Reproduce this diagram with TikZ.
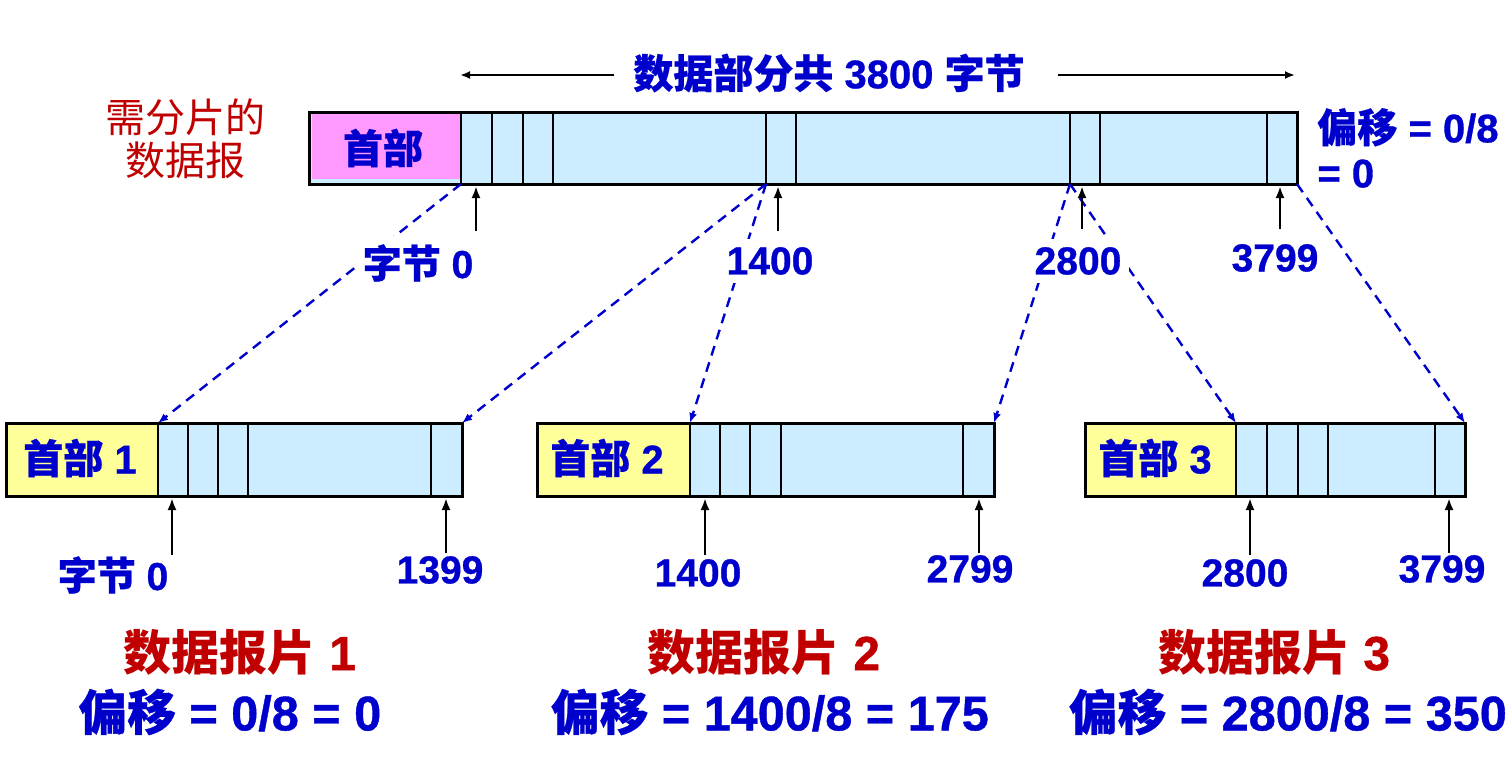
\documentclass[tikz,border=0pt]{standalone}
\usepackage{fontspec}
\setmainfont{Liberation Sans}[BoldFont={Liberation Sans Bold}, BoldFeatures={FakeBold=0.8}]
\newfontfamily\cjkfont[FakeBold=0.6]{Noto Sans CJK SC}
\newfontfamily\cjkplain{Noto Sans CJK SC}
\usetikzlibrary{arrows.meta}
\definecolor{tblue}{RGB}{0,0,204}
\definecolor{tred}{RGB}{192,0,0}
\definecolor{dblue}{RGB}{204,236,255}
\definecolor{hpink}{RGB}{255,153,255}
\definecolor{hyellow}{RGB}{255,255,153}
\newcommand\zh[1]{{\cjkfont #1}}
\newcommand\zhr[1]{{\cjkplain #1}}
\tikzset{
  frame/.style={draw=black, line width=1.5pt},
  sepline/.style={draw=black, line width=1pt},
  ptr/.style={-{Latex[length=6pt,width=4.5pt]}, line width=1.2pt, draw=black},
  span/.style={-{Latex[length=5pt,width=4pt]}, line width=1.2pt, draw=black},
  mapline/.style={draw=tblue, line width=1.2pt, dash pattern=on 5pt off 3.5pt, -{Latex[length=5pt,width=4pt]}},
  lbl/.style={text=tblue, font=\bfseries\fontsize{19.5}{22}\selectfont, inner sep=2pt},
  lblw/.style={lbl, fill=white, inner sep=4pt},
  hdr/.style={text=tblue, font=\bfseries\fontsize{20}{22}\selectfont, inner sep=0pt},
  bigred/.style={text=tred, font=\bfseries\fontsize{24}{26}\selectfont, inner sep=0pt},
  bigblue/.style={text=tblue, font=\bfseries\fontsize{24.3}{26}\selectfont, inner sep=0pt},
}
\begin{document}
\begin{tikzpicture}[x=0.5pt,y=-0.5pt]
\useasboundingbox (0,0) rectangle (1508,777);

% ---------- original datagram ----------
\fill[dblue] (309,112) rectangle (1297,184);
\fill[hpink] (312,113) rectangle (461,179);
\foreach \x in {461,492,523,553,766,796,1070,1100,1267}
  \draw[sepline] (\x,112) -- (\x,184);
\draw[frame] (309,112) rectangle (1297,184);
\node[hdr] (h0) at (383,148) {\zh{首部}};

\coordinate (t0) at (461,184);
\coordinate (t1400) at (766,184);
\coordinate (t2800) at (1070,184);
\coordinate (tend) at (1297,184);

% ---------- fragment 1 ----------
\fill[hyellow] (6,423) rectangle (158,496);
\fill[dblue] (158,423) rectangle (462,496);
\foreach \x in {158,188,218,248,431}
  \draw[sepline] (\x,423) -- (\x,496);
\draw[frame] (6,423) rectangle (462,496);
\node[hdr] (h1) at (80,458) {\zh{首部} 1};
\coordinate (f1s) at (158,423);
\coordinate (f1e) at (462,423);

% ---------- fragment 2 ----------
\fill[hyellow] (537,423) rectangle (690,496);
\fill[dblue] (690,423) rectangle (994,496);
\foreach \x in {690,720,750,781,963}
  \draw[sepline] (\x,423) -- (\x,496);
\draw[frame] (537,423) rectangle (994,496);
\node[hdr] (h2) at (607,458) {\zh{首部} 2};
\coordinate (f2s) at (690,423);
\coordinate (f2e) at (994,423);

% ---------- fragment 3 ----------
\fill[hyellow] (1085,423) rectangle (1236,496);
\fill[dblue] (1236,423) rectangle (1465,496);
\foreach \x in {1236,1267,1298,1328,1435}
  \draw[sepline] (\x,423) -- (\x,496);
\draw[frame] (1085,423) rectangle (1465,496);
\node[hdr] (h3) at (1155,458) {\zh{首部} 3};
\coordinate (f3s) at (1236,423);
\coordinate (f3e) at (1465,423);

% ---------- mapping (dashed) ----------
\draw[mapline] (t0) -- (f1s);
\draw[mapline] (t1400) -- (f1e);
\draw[mapline] (t1400) -- (f2s);
\draw[mapline] (t2800) -- (f2e);
\draw[mapline] (t2800) -- (f3s);
\draw[mapline] (tend) -- (f3e);

% ---------- top labels ----------
\node[lblw] (lb0) at (418,263) {\zh{字节} 0};
\node[lblw] (lb1400) at (770,261) {1400};
\node[lblw] (lb2800) at (1078,261) {2800};
\node[lblw] (lb3799) at (1275,258) {3799};

\coordinate (p0a) at (476,231);   \coordinate (p0b) at (476,186);
\coordinate (p1a) at (778,231);   \coordinate (p1b) at (778,186);
\coordinate (p2a) at (1082,229);  \coordinate (p2b) at (1082,186);
\coordinate (p3a) at (1280,229);  \coordinate (p3b) at (1280,186);
\draw[ptr] (p0a) -- (p0b);
\draw[ptr] (p1a) -- (p1b);
\draw[ptr] (p2a) -- (p2b);
\draw[ptr] (p3a) -- (p3b);

% ---------- title span ----------
\node[hdr, text=tblue] (title) at (829,73) {\zh{数据部分共} 3800 \zh{字节}};
\coordinate (sl0) at (614,75); \coordinate (sl1) at (460,75);
\coordinate (sr0) at (1058,75); \coordinate (sr1) at (1295,75);
\draw[span] (sl0) -- (sl1);
\draw[span] (sr0) -- (sr1);

% ---------- side labels ----------
\node[text=tred, font=\fontsize{20}{21.5}\selectfont, align=center, inner sep=0pt] (need)
  at (185,139) {\zhr{需分片的}\\\zhr{数据报}};
\node[hdr, anchor=west, align=left, font=\bfseries\fontsize{20}{22.5}\selectfont] (off0)
  at (1317,148) {\zh{偏移} = 0/8\\= 0};

% ---------- fragment pointers ----------
\coordinate (q1a) at (172,555);  \coordinate (q1b) at (172,498);
\coordinate (q2a) at (446,553);  \coordinate (q2b) at (446,498);
\coordinate (q3a) at (705,555);  \coordinate (q3b) at (705,498);
\coordinate (q4a) at (979,553);  \coordinate (q4b) at (979,498);
\coordinate (q5a) at (1250,555); \coordinate (q5b) at (1250,498);
\coordinate (q6a) at (1449,553); \coordinate (q6b) at (1449,498);
\foreach \i in {1,...,6} \draw[ptr] (q\i a) -- (q\i b);

\node[lbl] (b1s) at (113,575) {\zh{字节} 0};
\node[lbl] (b1e) at (440,570) {1399};
\node[lbl] (b2s) at (698,573) {1400};
\node[lbl] (b2e) at (970,569) {2799};
\node[lbl] (b3s) at (1245,573) {2800};
\node[lbl] (b3e) at (1442,569) {3799};

% ---------- fragment captions ----------
\node[bigred] (c1) at (240,652) {\zhr{数据报片} 1};
\node[bigred] (c2) at (764,652) {\zhr{数据报片} 2};
\node[bigred] (c3) at (1274,652) {\zhr{数据报片} 3};
\node[bigblue] (o1) at (230,712) {\zh{偏移} = 0/8 = 0};
\node[bigblue] (o2) at (770,712) {\zh{偏移} = 1400/8 = 175};
\node[bigblue] (o3) at (1288,712) {\zh{偏移} = 2800/8 = 350};
\end{tikzpicture}
\end{document}
